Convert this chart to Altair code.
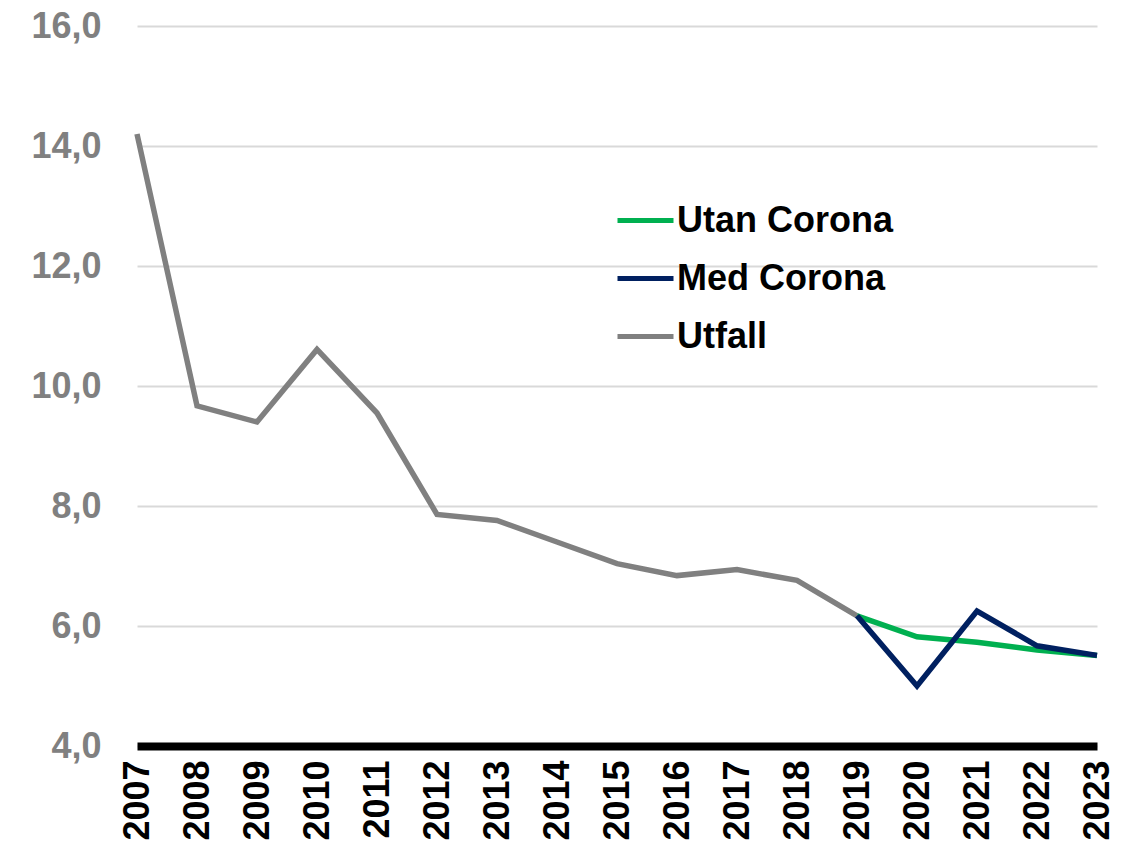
import altair as alt
import pandas as pd

years_utfall = list(range(2007, 2020))
utfall = [14.2, 9.67, 9.40, 10.61, 9.55, 7.86, 7.76, 7.40, 7.04, 6.84, 6.94, 6.76, 6.17]

years_fc = [2019, 2020, 2021, 2022, 2023]
utan_corona = [6.17, 5.82, 5.73, 5.60, 5.51]
med_corona = [6.17, 5.00, 6.25, 5.67, 5.51]

series_names = ["Utan Corona", "Med Corona", "Utfall"]
series_colors = ["#00B050", "#002060", "#808080"]

rows = []
for y, v in zip(years_utfall, utfall):
    rows.append({"year": y, "value": v, "series": "Utfall"})
for y, v in zip(years_fc, utan_corona):
    rows.append({"year": y, "value": v, "series": "Utan Corona"})
for y, v in zip(years_fc, med_corona):
    rows.append({"year": y, "value": v, "series": "Med Corona"})
df = pd.DataFrame(rows)

FONT = "Liberation Sans"

x_enc = alt.X(
    "year:Q",
    scale=alt.Scale(domain=[2007, 2023], nice=False, zero=False),
    axis=alt.Axis(
        values=list(range(2007, 2024)),
        format="d",
        labelAngle=-90,
        labelAlign="right",
        labelBaseline="middle",
        labelFont=FONT,
        labelFontSize=36,
        labelFontWeight="bold",
        labelColor="#000000",
        labelPadding=14,
        labelOverlap=False,
        labelFlush=False,
        ticks=False,
        grid=False,
        domain=True,
        domainColor="#000000",
        domainWidth=8,
        title=None,
    ),
)
y_enc = alt.Y(
    "value:Q",
    scale=alt.Scale(domain=[4, 16], nice=False, zero=False),
    axis=alt.Axis(
        values=[4, 6, 8, 10, 12, 14, 16],
        labelExpr="replace(format(datum.value, '.1f'), '.', ',')",
        labelFont=FONT,
        labelFontSize=36,
        labelFontWeight="bold",
        labelColor="#808080",
        labelPadding=36,
        ticks=False,
        domain=False,
        grid=True,
        gridColor="#D9D9D9",
        gridWidth=2,
        title=None,
    ),
)
color_enc = alt.Color(
    "series:N",
    scale=alt.Scale(domain=series_names, range=series_colors),
    legend=alt.Legend(
        title=None,
        orient="none",
        legendX=478,
        legendY=164,
        symbolType="stroke",
        symbolSize=3136,
        symbolStrokeWidth=5,
        labelFont=FONT,
        labelFontSize=36,
        labelFontWeight="bold",
        labelColor="#000000",
        labelOffset=1,
        rowPadding=9,
        labelLimit=400,
    ),
)

base = alt.Chart(df).encode(x=x_enc, y=y_enc, color=color_enc)

layers = [
    base.transform_filter(alt.datum.series == s).mark_line(strokeWidth=5.5, strokeCap="butt")
    for s in ["Utfall", "Utan Corona", "Med Corona"]
]

chart = alt.layer(*layers).properties(
    width=960,
    height=720,
    autosize=alt.AutoSizeParams(type="none"),
    padding={"left": 129, "top": 18, "right": 22, "bottom": 100},
).configure_view(stroke=None)

chart.save("out.html", embed_options={"renderer": "svg", "actions": False})
